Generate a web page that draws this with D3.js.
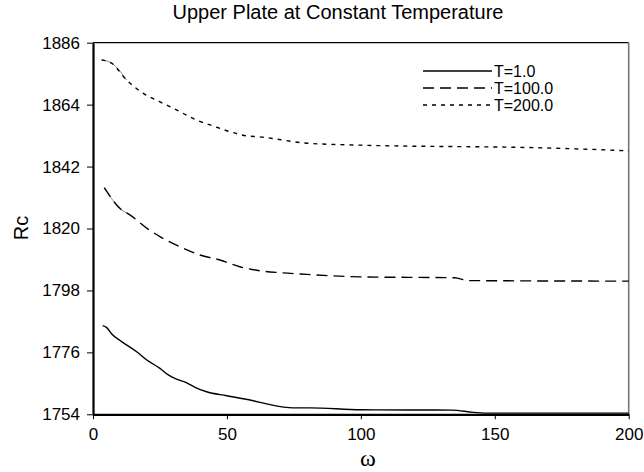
<!DOCTYPE html>
<html>
<meta charset="utf-8">
<title>Upper Plate at Constant Temperature</title>
<script src="https://d3js.org/d3.v7.min.js"></script>
<style>
  body { margin: 0; background: #fff; }
  text { font-family: "Liberation Sans", Arial, sans-serif; fill: #000; }
</style>
<body>
<script>
  // omega values and Rc
  var omega1 = [3.6, 5.1, 7.0, 10.7, 16.3, 20.1, 25, 28.1, 31.2, 35, 38.1, 42.4, 49.9, 59.8, 64.8, 74.8, 81, 100, 134, 142, 150, 200];
  var rcT1   = [1785.5, 1784.8, 1782.5, 1779.8, 1776.2, 1773.3, 1770.3, 1768, 1766.5, 1765.2, 1763.6, 1762, 1760.6, 1758.8, 1757.7, 1756.3, 1756.3, 1755.6, 1755.5, 1754.7, 1754.4, 1754.4];

  var omega100 = [4.2, 10.7, 13.2, 20.7, 25, 33.7, 39.9, 47.4, 54.8, 62.3, 69.8, 79.8, 100, 135, 140, 200];
  var rcT100   = [1834.5, 1826.6, 1825.2, 1819.7, 1817.1, 1813, 1810.6, 1808.8, 1806.4, 1805, 1804.3, 1803.7, 1802.8, 1802.5, 1801.5, 1801.3];

  var omega200 = [3.2, 7.0, 12.6, 18.8, 25, 31.2, 38.7, 44.9, 51.1, 57.4, 61.7, 80, 100, 165, 180, 200];
  var rcT200   = [1879.9, 1878.7, 1872.7, 1868, 1865, 1862.1, 1858.5, 1856.4, 1854.4, 1852.9, 1852.6, 1850.3, 1849.6, 1848.7, 1848.3, 1847.6];

  var seriesNames = ["T=1.0", "T=100.0", "T=200.0"];
  var xTicks = [0, 50, 100, 150, 200];
  var yTicks = [1754, 1776, 1798, 1820, 1842, 1864, 1886];

  var width = 644, height = 472;
  var padL = 93, padR = 628.7, padT = 42.7, padB = 414.3;

  var svg = d3.select("body").append("svg").attr("width", width).attr("height", height);

  var x = d3.scaleLinear().domain([0, 200]).range([padL, padR]);
  var y = d3.scaleLinear().domain([1754, 1886]).range([padB, padT]);

  // frame: top thin, right grey
  svg.append("line").attr("x1", padL).attr("x2", padR).attr("y1", padT).attr("y2", padT)
    .attr("stroke", "#000").attr("stroke-width", 1.2);
  svg.append("line").attr("x1", padR).attr("x2", padR).attr("y1", padT).attr("y2", padB)
    .attr("stroke", "#777").attr("stroke-width", 1.6);

  var series = [
    { name: seriesNames[0], xs: omega1, ys: rcT1, dash: null, hair: 0 },
    { name: seriesNames[1], xs: omega100, ys: rcT100, dash: "11,6", hair: 3 },
    { name: seriesNames[2], xs: omega200, ys: rcT200, dash: "4,5", hair: 3 }
  ];

  var line = d3.line()
    .x(function(d) { return x(d[0]); })
    .y(function(d) { return y(d[1]); })
    .curve(d3.curveMonotoneX);

  series.forEach(function(s) {
    var pts = s.xs.map(function(v, i) { return [v, s.ys[i]]; });
    // noisy start shows as a hairline in the original
    if (s.hair) {
      svg.append("path")
        .attr("d", line(pts.slice(0, s.hair)))
        .attr("fill", "none")
        .attr("stroke", "#555")
        .attr("stroke-width", 0.7);
    }
    svg.append("path")
      .attr("d", line(pts))
      .attr("fill", "none")
      .attr("stroke", "#000")
      .attr("stroke-width", 1.4)
      .attr("stroke-dasharray", s.dash);
  });

  // axes
  var axisX = d3.axisBottom(x).tickValues(xTicks).tickSize(5).tickSizeOuter(0).tickPadding(9);
  var gx = svg.append("g").attr("transform", "translate(0," + padB + ")").call(axisX);
  gx.select(".domain").attr("stroke-width", 2.2);
  gx.selectAll("text").attr("font-size", 17).attr("font-family", "Liberation Sans");

  var axisY = d3.axisLeft(y).tickValues(yTicks).tickFormat(d3.format("d"))
    .tickSize(6).tickSizeOuter(0).tickPadding(7);
  var gy = svg.append("g").attr("transform", "translate(" + padL + ",0)").call(axisY);
  gy.select(".domain").attr("stroke-width", 2.2);
  gy.selectAll("text").attr("font-size", 17).attr("font-family", "Liberation Sans");

  // titles
  svg.append("text").attr("x", 338).attr("y", 19).attr("text-anchor", "middle")
    .attr("font-size", 20).text("Upper Plate at Constant Temperature");
  svg.append("text").attr("transform", "translate(28,228) rotate(-90)").attr("text-anchor", "middle")
    .attr("font-size", 20).text("Rc");
  svg.append("text").attr("x", 368).attr("y", 466).attr("text-anchor", "middle")
    .style("font-family", "'Liberation Serif', serif").attr("font-size", 24).text("\u03c9");

  // legend
  var leg = svg.append("g");
  series.forEach(function(s, i) {
    var ly = 71 + i * 17;
    leg.append("line").attr("x1", 423).attr("x2", 492).attr("y1", ly).attr("y2", ly)
      .attr("stroke", "#000").attr("stroke-width", 1.4).attr("stroke-dasharray", s.dash);
    leg.append("text").attr("x", 494).attr("y", ly + 5.5).attr("font-size", 16).text(s.name);
  });
</script>
</body>
</html>
